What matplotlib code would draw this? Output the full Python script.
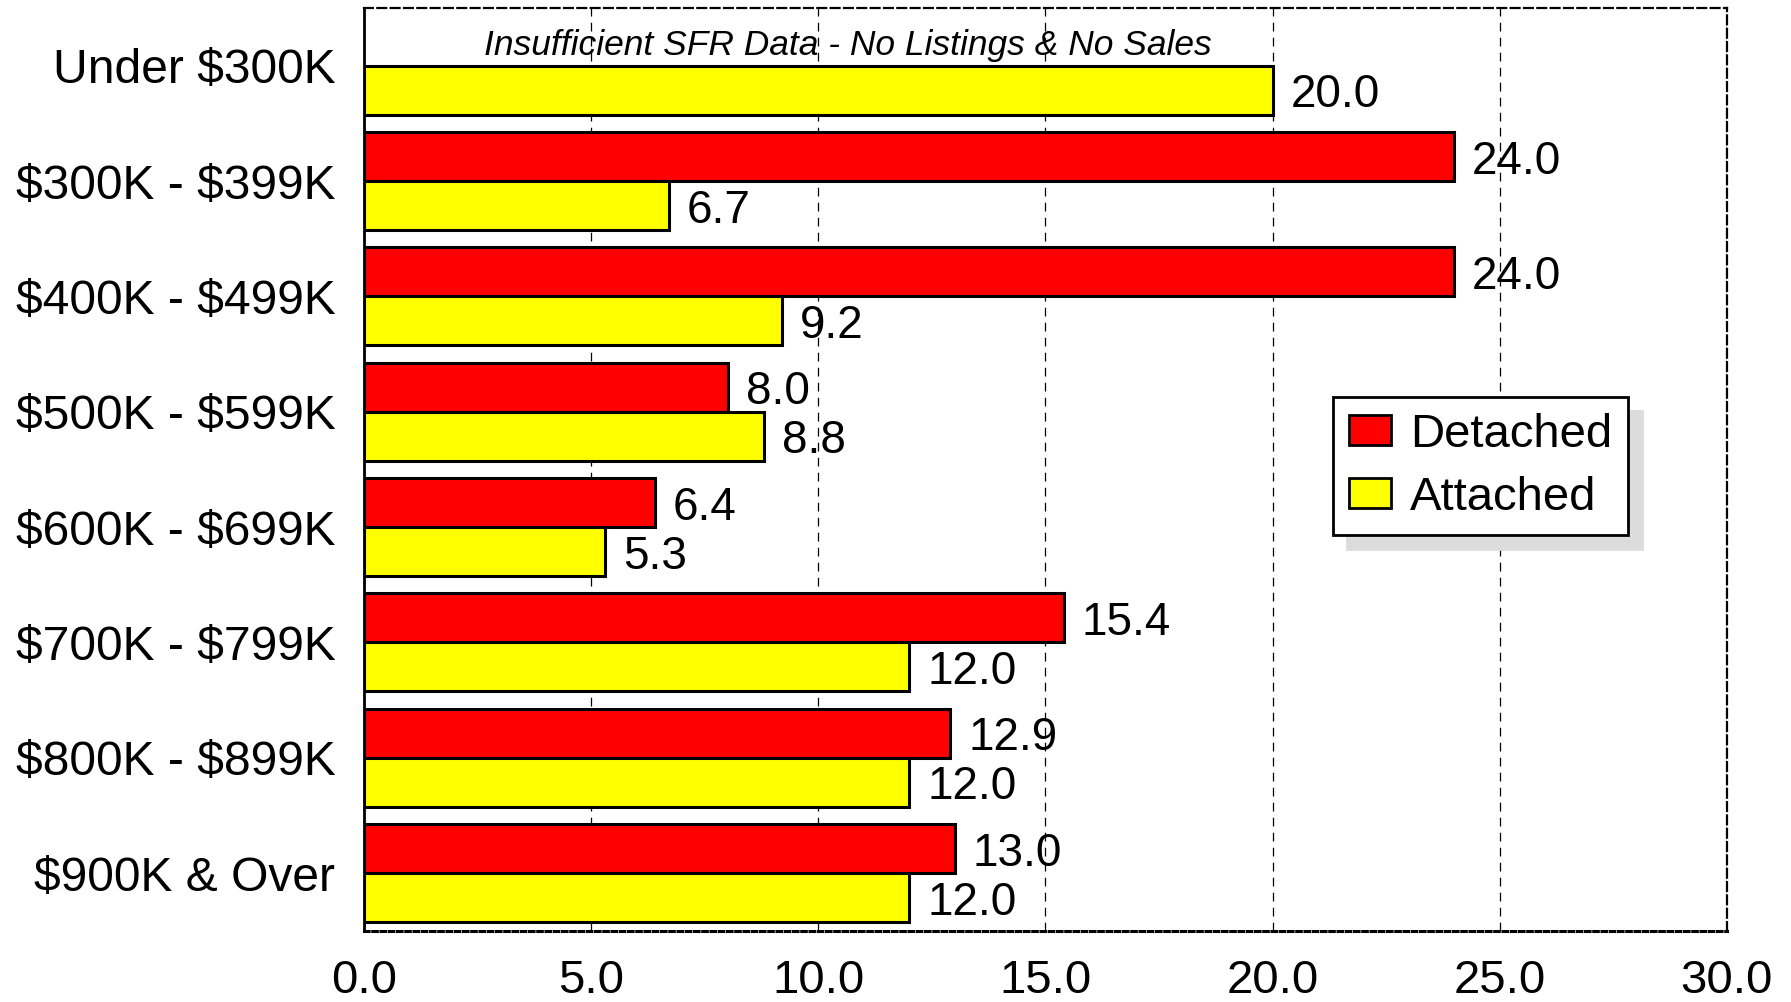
import matplotlib.pyplot as plt
import numpy as np

categories = ['Under \\$300K', '\\$300K - \\$399K', '\\$400K - \\$499K', '\\$500K - \\$599K',
              '\\$600K - \\$699K', '\\$700K - \\$799K', '\\$800K - \\$899K', '\\$900K & Over']
detached = [None, 24.0, 24.0, 8.0, 6.4, 15.4, 12.9, 13.0]
attached = [20.0, 6.7, 9.2, 8.8, 5.3, 12.0, 12.0, 12.0]
xticks = [0, 5, 10, 15, 20, 25, 30]
note = 'Insufficient SFR Data - No Listings & No Sales'

narrow = ['DejaVu Sans Condensed', 'Liberation Sans Narrow', 'Liberation Sans', 'DejaVu Sans']
plt.rcParams['font.family'] = ['Liberation Sans', 'DejaVu Sans']

fig = plt.figure(figsize=(17.91, 10.02), dpi=100)
ax = fig.add_axes([0.2035, 0.071, 0.7605, 0.921])

h = 0.425
y = np.arange(len(categories))
d_idx = [i for i, v in enumerate(detached) if v is not None]
d_val = [detached[i] for i in d_idx]

bd = ax.barh(np.array(d_idx) - h / 2, d_val, height=h, color='#ff0000',
             edgecolor='black', linewidth=2.2, label='Detached', zorder=3)
ba = ax.barh(y + h / 2, attached, height=h, color='#ffff00',
             edgecolor='black', linewidth=2.2, label='Attached', zorder=3)
labs = ax.bar_label(bd, labels=[f'{v:.1f}' for v in d_val], padding=13, fontsize=33, zorder=5)
labs += ax.bar_label(ba, labels=[f'{v:.1f}' for v in attached], padding=13, fontsize=33, zorder=5)
for t in labs:
    t.set_va('center_baseline')

# no detached data for the first bracket
ax.text(10.65, -h / 2 + 0.04, note, ha='center', va='center', fontsize=25.5,
        style='italic', family=narrow, zorder=6)

ax.set_xlim(0, 30)
ax.set_ylim(len(categories) - 0.5, -0.5)
ax.set_yticks(y)
ax.set_yticklabels(categories, fontsize=34.6)
ax.set_xticks(xticks)
ax.set_xticklabels([f'{t:.1f}' for t in xticks], fontsize=34, family=narrow)
ax.tick_params(axis='y', length=0, pad=21)
ax.tick_params(axis='x', length=0, pad=20)

ax.set_axisbelow(True)
ax.xaxis.grid(True, color='black', linewidth=0.9, linestyle=(0, (7, 5)))

for side in ['top', 'right']:
    ax.spines[side].set_linestyle((0, (4, 2)))
    ax.spines[side].set_linewidth(1.6)
ax.spines['bottom'].set_linestyle((0, (1.5, 1.2)))
ax.spines['bottom'].set_linewidth(2.2)
ax.spines['left'].set_linewidth(2)

leg = ax.legend(loc='upper left', bbox_to_anchor=(0.694, 0.604), fontsize=34,
                handlelength=0.9, handleheight=0.62, handletextpad=0.4,
                labelspacing=0.4, borderpad=0.33, fancybox=False,
                edgecolor='black', framealpha=1,
                shadow={'ox': 10, 'oy': -10, 'facecolor': '#dcdcdc',
                        'edgecolor': '#dcdcdc', 'alpha': 1})
leg.get_frame().set_linewidth(2)
for p in leg.get_patches():
    p.set_linewidth(2)

fig.savefig('out.png', dpi=100)
